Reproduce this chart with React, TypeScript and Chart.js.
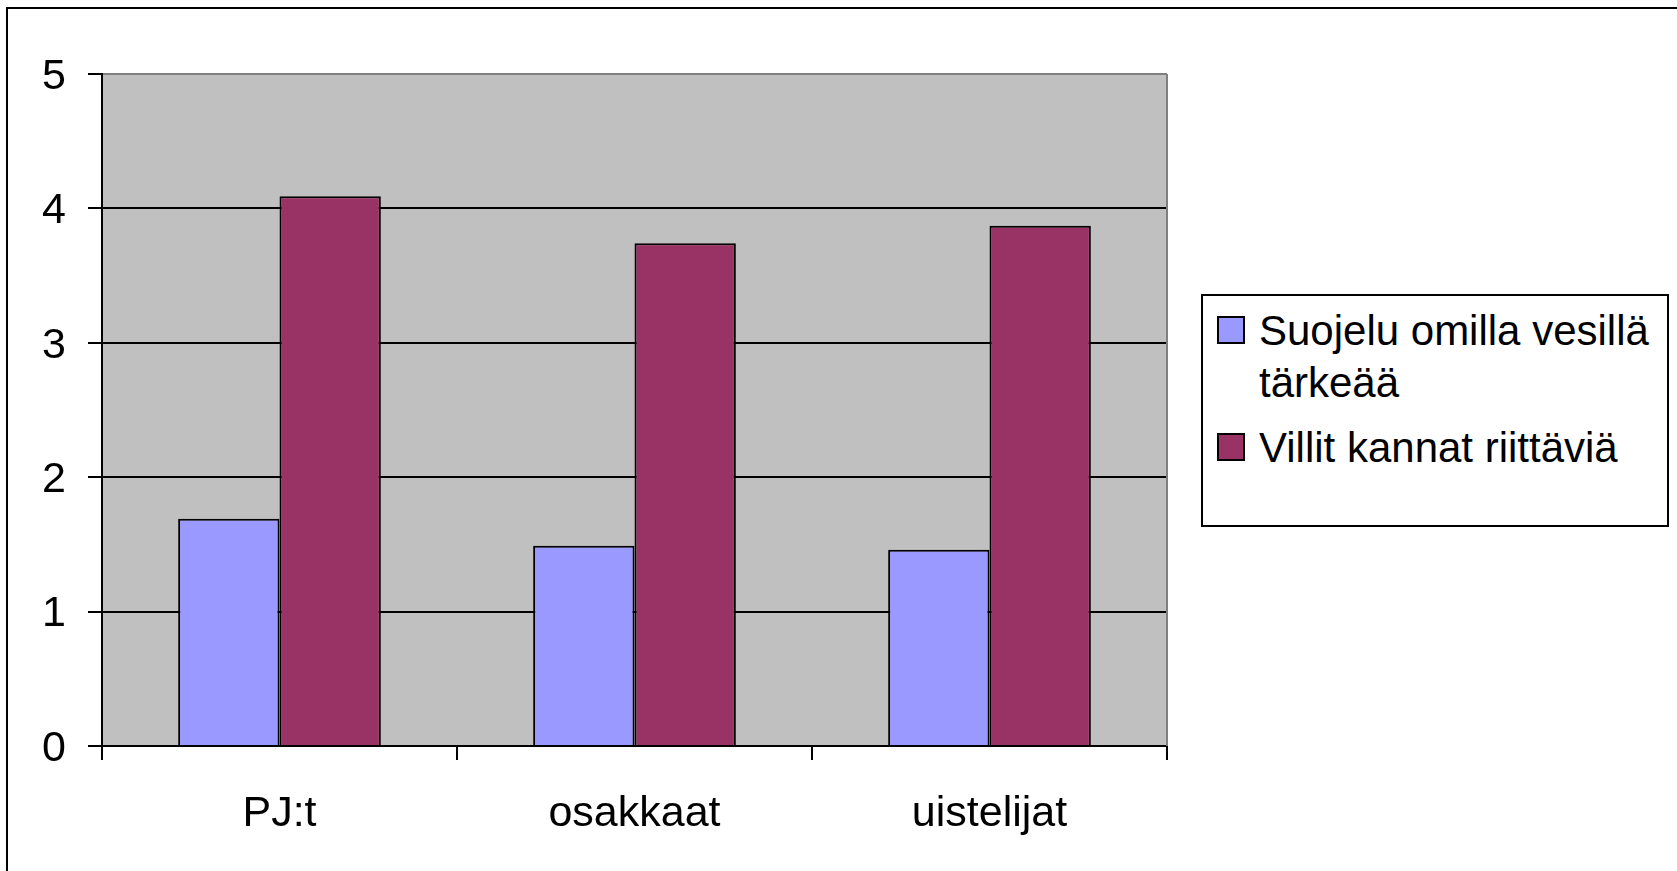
import React, { useEffect, useRef } from "react";
import { Chart, registerables } from "chart.js";

Chart.register(...registerables);

const categories = ["PJ:t", "osakkaat", "uistelijat"];
const seriesNames = ["Suojelu omilla vesillä tärkeää", "Villit kannat riittäviä"];
const suojeluValues = [1.69, 1.49, 1.46];
const villitValues = [4.09, 3.74, 3.87];
const seriesColors = ["#9999FF", "#993366"];
const yTicks = [0, 1, 2, 3, 4, 5];

const FONT = "'Liberation Sans', Arial, sans-serif";
const W = 1677;
const H = 871;

const plotBg = {
  id: "plotBg",
  beforeDraw(chart: any) {
    const { ctx, chartArea } = chart;
    ctx.save();
    ctx.fillStyle = "#C0C0C0";
    ctx.fillRect(chartArea.left, chartArea.top, chartArea.right - chartArea.left, chartArea.bottom - chartArea.top);
    ctx.restore();
  },
  afterDatasetsDraw(chart: any) {
    const { ctx, chartArea } = chart;
    ctx.save();
    ctx.strokeStyle = "#808080";
    ctx.lineWidth = 2;
    ctx.beginPath();
    ctx.moveTo(chartArea.right, chartArea.top);
    ctx.lineTo(chartArea.right, chartArea.bottom);
    ctx.stroke();
    ctx.restore();
  },
};

export default function App() {
  const ref = useRef<HTMLCanvasElement | null>(null);

  useEffect(() => {
    if (!ref.current) return;
    const chart = new Chart(ref.current, {
      type: "bar",
      data: {
        labels: categories,
        datasets: [
          {
            label: seriesNames[0],
            data: suojeluValues,
            backgroundColor: seriesColors[0],
            borderColor: "#000",
            borderWidth: 2,
            categoryPercentage: 0.571,
            barPercentage: 1,
          },
          {
            label: seriesNames[1],
            data: villitValues,
            backgroundColor: seriesColors[1],
            borderColor: "#000",
            borderWidth: 2,
            categoryPercentage: 0.571,
            barPercentage: 1,
          },
        ],
      },
      options: {
        animation: false,
        responsive: false,
        maintainAspectRatio: false,
        layout: { padding: { top: 74, right: 510, bottom: 0, left: 0 } },
        plugins: {
          legend: { display: false },
          tooltip: { enabled: false },
        },
        scales: {
          x: {
            offset: true,
            grid: {
              display: true,
              offset: true,
              drawOnChartArea: false,
              drawTicks: true,
              tickLength: 14,
              color: "#000",
              lineWidth: 2,
            },
            border: { display: true, color: "#000", width: 2 },
            ticks: {
              font: { family: FONT, size: 43 },
              color: "#000",
              padding: 28,
              maxRotation: 0,
            },
            afterFit(scale: any) {
              scale.height = 125;
            },
          },
          y: {
            min: 0,
            max: 5,
            afterBuildTicks(scale: any) {
              scale.ticks = yTicks.map((v) => ({ value: v }));
            },
            grid: {
              color: (c: any) => (c.tick && c.tick.value === 5 ? "#808080" : "#000"),
              tickColor: "#000",
              lineWidth: 2,
              drawTicks: true,
              tickLength: 14,
            },
            border: { display: true, color: "#000", width: 2 },
            ticks: {
              font: { family: FONT, size: 43 },
              color: "#000",
              padding: 22,
              labelOffset: 3,
            },
            afterFit(scale: any) {
              scale.width = 102;
            },
          },
        },
      },
      plugins: [plotBg],
    });
    return () => chart.destroy();
  }, []);

  return (
    <div
      style={{
        position: "fixed",
        left: 0,
        top: 0,
        width: W,
        height: H,
        overflow: "hidden",
        background: "#fff",
        fontFamily: FONT,
      }}
    >
      <canvas ref={ref} width={W} height={H} style={{ position: "absolute", left: 0, top: 0 }} />
      <div
        style={{
          position: "absolute",
          left: 6,
          top: 7,
          width: 3000,
          height: 3000,
          borderTop: "2px solid #000",
          borderLeft: "2px solid #000",
          pointerEvents: "none",
        }}
      />
      <div
        style={{
          position: "absolute",
          left: 1201,
          top: 294,
          width: 464,
          height: 229,
          border: "2px solid #000",
          background: "#fff",
          fontSize: 42,
          lineHeight: "52px",
          color: "#000",
        }}
      >
        {seriesNames.map((name, i) => (
          <div key={name}>
            <div
              style={{
                position: "absolute",
                left: 14,
                top: i === 0 ? 20 : 137,
                width: 24,
                height: 24,
                border: "2px solid #000",
                background: seriesColors[i],
              }}
            />
            <div
              style={{
                position: "absolute",
                left: 56,
                top: i === 0 ? 9 : 126,
                width: 400,
                whiteSpace: "normal",
              }}
            >
              {name}
            </div>
          </div>
        ))}
      </div>
    </div>
  );
}
